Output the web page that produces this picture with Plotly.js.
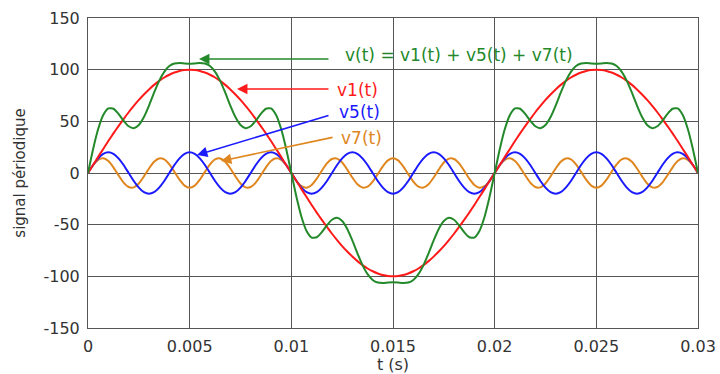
<!DOCTYPE html>
<html>
<head>
<meta charset="utf-8">
<script src="https://cdn.plot.ly/plotly-3.0.1.min.js"></script>
<style>
  html, body { margin: 0; padding: 0; background: #fff; }
  #chart { width: 720px; height: 374px; }
</style>
</head>
<body>
<div id="chart"></div>
<script>
// time samples (s), one every 0.25 ms over 0 .. 30 ms
const t = [
  0,0.00025,0.0005,0.00075, 0.001,0.00125,0.0015,0.00175, 0.002,0.00225,0.0025,0.00275,
  0.003,0.00325,0.0035,0.00375, 0.004,0.00425,0.0045,0.00475, 0.005,0.00525,0.0055,0.00575,
  0.006,0.00625,0.0065,0.00675, 0.007,0.00725,0.0075,0.00775, 0.008,0.00825,0.0085,0.00875,
  0.009,0.00925,0.0095,0.00975, 0.01,0.01025,0.0105,0.01075, 0.011,0.01125,0.0115,0.01175,
  0.012,0.01225,0.0125,0.01275, 0.013,0.01325,0.0135,0.01375, 0.014,0.01425,0.0145,0.01475,
  0.015,0.01525,0.0155,0.01575, 0.016,0.01625,0.0165,0.01675, 0.017,0.01725,0.0175,0.01775,
  0.018,0.01825,0.0185,0.01875, 0.019,0.01925,0.0195,0.01975, 0.02,0.02025,0.0205,0.02075,
  0.021,0.02125,0.0215,0.02175, 0.022,0.02225,0.0225,0.02275, 0.023,0.02325,0.0235,0.02375,
  0.024,0.02425,0.0245,0.02475, 0.025,0.02525,0.0255,0.02575, 0.026,0.02625,0.0265,0.02675,
  0.027,0.02725,0.0275,0.02775, 0.028,0.02825,0.0285,0.02875, 0.029,0.02925,0.0295,0.02975,
  0.03
];

// fundamental v1(t)
const v1 = [
  0,7.8,15.6,23.3,30.9,38.3,45.4,52.2,58.8,64.9,70.7,76.0,80.9,85.3,89.1,92.4,95.1,97.2,98.8,99.7,
  100,99.7,98.8,97.2,95.1,92.4,89.1,85.3,80.9,76.0,70.7,64.9,58.8,52.2,45.4,38.3,30.9,23.3,15.6,7.8,
  0,-7.8,-15.6,-23.3,-30.9,-38.3,-45.4,-52.2,-58.8,-64.9,-70.7,-76.0,-80.9,-85.3,-89.1,-92.4,-95.1,-97.2,-98.8,-99.7,
  -100,-99.7,-98.8,-97.2,-95.1,-92.4,-89.1,-85.3,-80.9,-76.0,-70.7,-64.9,-58.8,-52.2,-45.4,-38.3,-30.9,-23.3,-15.6,-7.8,
  0,7.8,15.6,23.3,30.9,38.3,45.4,52.2,58.8,64.9,70.7,76.0,80.9,85.3,89.1,92.4,95.1,97.2,98.8,99.7,
  100,99.7,98.8,97.2,95.1,92.4,89.1,85.3,80.9,76.0,70.7,64.9,58.8,52.2,45.4,38.3,30.9,23.3,15.6,7.8,
  0
];

// 5th harmonic v5(t)
const v5 = [
  0,7.7,14.1,18.5,20,18.5,14.1,7.7,0,-7.7,-14.1,-18.5,-20,-18.5,-14.1,-7.7,
  0,7.7,14.1,18.5,20,18.5,14.1,7.7,0,-7.7,-14.1,-18.5,-20,-18.5,-14.1,-7.7,
  0,7.7,14.1,18.5,20,18.5,14.1,7.7,0,-7.7,-14.1,-18.5,-20,-18.5,-14.1,-7.7,
  0,7.7,14.1,18.5,20,18.5,14.1,7.7,0,-7.7,-14.1,-18.5,-20,-18.5,-14.1,-7.7,
  0,7.7,14.1,18.5,20,18.5,14.1,7.7,0,-7.7,-14.1,-18.5,-20,-18.5,-14.1,-7.7,
  0,7.7,14.1,18.5,20,18.5,14.1,7.7,0,-7.7,-14.1,-18.5,-20,-18.5,-14.1,-7.7,
  0,7.7,14.1,18.5,20,18.5,14.1,7.7,0,-7.7,-14.1,-18.5,-20,-18.5,-14.1,-7.7,
  0,7.7,14.1,18.5,20,18.5,14.1,7.7,0
];

// 7th harmonic v7(t)
const v7 = [
  0,7.5,12.7,14.2,11.6,5.5,-2.2,-9.3,-13.6,-13.9,-10.1,-3.3,4.4,10.9,14.1,13.2,8.4,1.1,-6.5,-12.2,
  -14.3,-12.2,-6.5,1.1,8.4,13.2,14.1,10.9,4.4,-3.3,-10.1,-13.9,-13.6,-9.3,-2.2,5.5,11.6,14.2,12.7,7.5,
  0,-7.5,-12.7,-14.2,-11.6,-5.5,2.2,9.3,13.6,13.9,10.1,3.3,-4.4,-10.9,-14.1,-13.2,-8.4,-1.1,6.5,12.2,
  14.3,12.2,6.5,-1.1,-8.4,-13.2,-14.1,-10.9,-4.4,3.3,10.1,13.9,13.6,9.3,2.2,-5.5,-11.6,-14.2,-12.7,-7.5,
  0,7.5,12.7,14.2,11.6,5.5,-2.2,-9.3,-13.6,-13.9,-10.1,-3.3,4.4,10.9,14.1,13.2,8.4,1.1,-6.5,-12.2,
  -14.3,-12.2,-6.5,1.1,8.4,13.2,14.1,10.9,4.4,-3.3,-10.1,-13.9,-13.6,-9.3,-2.2,5.5,11.6,14.2,12.7,7.5,
  0
];

// resulting periodic signal v(t) = v1(t) + v5(t) + v7(t)
const v = [
  0,23.0,42.5,56.1,62.5,62.2,57.3,50.6,45.2,43.4,46.5,54.2,65.3,77.7,89.1,97.9,103.5,106.0,106.4,106.0,
  105.7,106.0,106.4,106.0,103.5,97.9,89.1,77.7,65.3,54.2,46.5,43.4,45.2,50.6,57.3,62.2,62.5,56.1,42.5,23.0,
  0,-23.0,-42.5,-56.1,-62.5,-62.2,-57.3,-50.6,-45.2,-43.4,-46.5,-54.2,-65.3,-77.7,-89.1,-97.9,-103.5,-106.0,-106.4,-106.0,
  -105.7,-106.0,-106.4,-106.0,-103.5,-97.9,-89.1,-77.7,-65.3,-54.2,-46.5,-43.4,-45.2,-50.6,-57.3,-62.2,-62.5,-56.1,-42.5,-23.0,
  0,23.0,42.5,56.1,62.5,62.2,57.3,50.6,45.2,43.4,46.5,54.2,65.3,77.7,89.1,97.9,103.5,106.0,106.4,106.0,
  105.7,106.0,106.4,106.0,103.5,97.9,89.1,77.7,65.3,54.2,46.5,43.4,45.2,50.6,57.3,62.2,62.5,56.1,42.5,23.0,
  0
];

// axis ticks
const xTickVals = [0, 0.005, 0.01, 0.015, 0.02, 0.025, 0.03];
const xTickText = ['0', '0.005', '0.01', '0.015', '0.02', '0.025', '0.03'];
const yTickVals = [-150, -100, -50, 0, 50, 100, 150];
const yTickText = ['-150', '-100', '-50', '0', '50', '100', '150'];

// curve labels
const labelNames = ['v(t) = v1(t) + v5(t) + v7(t)', 'v1(t)', 'v5(t)', 'v7(t)'];

const GREEN = '#23892a', RED = '#ff1a1a', BLUE = '#1a1aff', ORANGE = '#e0861e';
const FONT = 'DejaVu Sans, Arial, sans-serif';

function curve(y, color) {
  return { x: t, y: y, type: 'scatter', mode: 'lines', hoverinfo: 'skip',
           line: { color: color, width: 2, shape: 'spline', smoothing: 0.6 } };
}

const data = [curve(v7, ORANGE), curve(v5, BLUE), curve(v1, RED), curve(v, GREEN)];

// arrows: tail (ax, ay) -> head (x, y), in data units
function arrow(x, y, ax, ay, color) {
  return { x: x, y: y, ax: ax, ay: ay, xref: 'x', yref: 'y', axref: 'x', ayref: 'y',
           text: '', showarrow: true, arrowhead: 2, arrowsize: 1.3, arrowwidth: 1.6,
           arrowcolor: color, standoff: 0, startstandoff: 0 };
}
function label(x, y, text, color) {
  return { x: x, y: y, xref: 'x', yref: 'y', text: text, showarrow: false,
           xanchor: 'left', yanchor: 'middle', font: { family: FONT, size: 17, color: color } };
}

const annotations = [
  arrow(0.00546, 110.3, 0.0119, 110.3, GREEN),
  arrow(0.00733, 81.3, 0.0119, 81.3, RED),
  arrow(0.00536, 17.4, 0.0119, 56.1, BLUE),
  arrow(0.00654, 11.6, 0.0121, 34.8, ORANGE),
  label(0.01255, 114.5, labelNames[0], GREEN),
  label(0.01215, 80.5, labelNames[1], RED),
  label(0.01225, 59.0, labelNames[2], BLUE),
  label(0.01235, 34.0, labelNames[3], ORANGE)
];

const axisCommon = {
  showgrid: true, gridcolor: '#555', gridwidth: 1,
  zeroline: false, showline: true, linecolor: '#555', linewidth: 1, mirror: true,
  ticks: '', tickmode: 'array', ticklabelstandoff: 4,
  tickfont: { family: FONT, size: 16, color: '#333' }
};

const layout = {
  width: 720, height: 374,
  margin: { l: 88, r: 22, t: 18, b: 46 },
  paper_bgcolor: '#fff', plot_bgcolor: '#fff',
  showlegend: false,
  xaxis: Object.assign({}, axisCommon, {
    range: [0, 0.03], tickvals: xTickVals, ticktext: xTickText,
    title: { text: 't (s)', standoff: 4, font: { family: FONT, size: 16, color: '#333' } }
  }),
  yaxis: Object.assign({}, axisCommon, {
    range: [-150, 150], tickvals: yTickVals, ticktext: yTickText,
    title: { text: 'signal périodique', standoff: 14, font: { family: FONT, size: 15, color: '#333' } }
  }),
  annotations: annotations
};

Plotly.newPlot('chart', data, layout, { displayModeBar: false, staticPlot: true });
</script>
</body>
</html>
